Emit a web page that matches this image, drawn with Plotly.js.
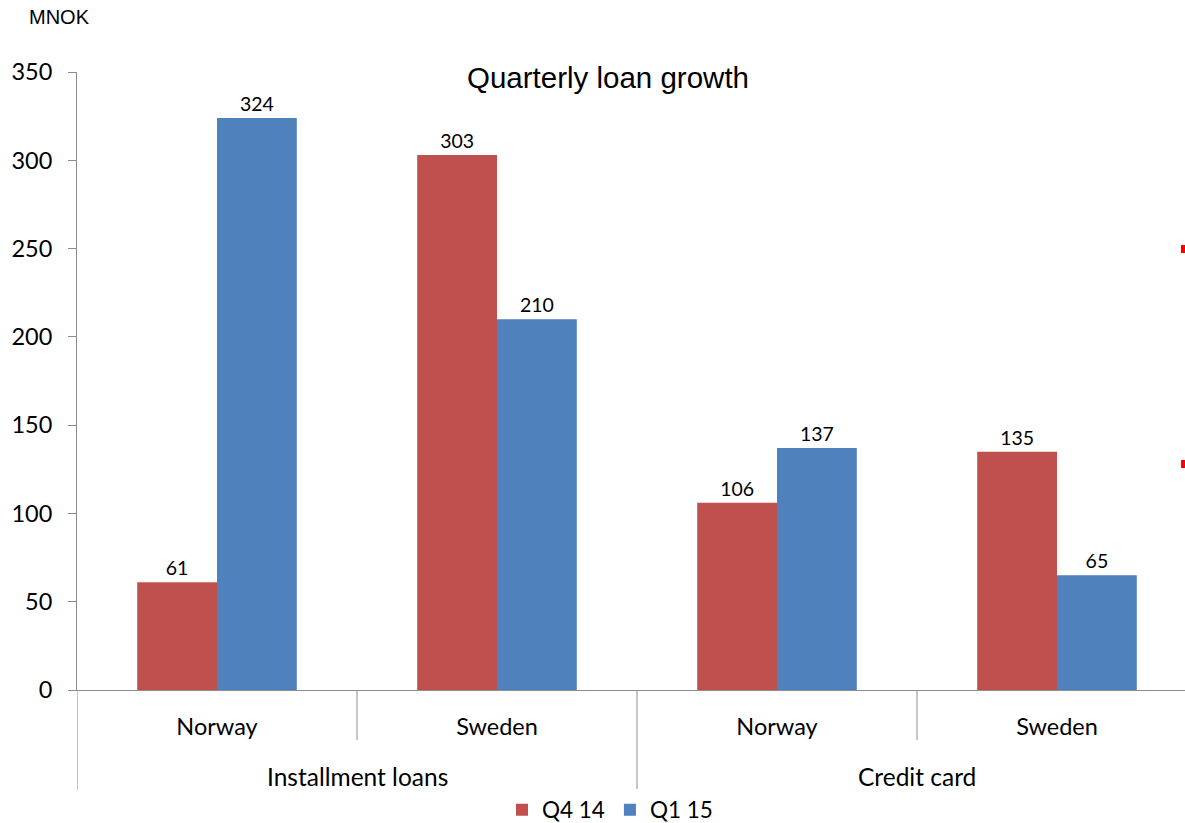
<!DOCTYPE html>
<html><head><meta charset="utf-8">
<script src="https://cdn.plot.ly/plotly-3.0.1.min.js"></script>
<style>html,body{margin:0;padding:0;background:#fff;overflow:hidden}</style>
</head><body><div id="chart" style="width:1185px;height:823px"></div>
<script>
const products = ["Installment loans", "Installment loans", "Credit card", "Credit card"];
const countries = ["Norway", "Sweden", "Norway", "Sweden"];
const outerLabels = ["Installment loans", "Credit card"];
const seriesNames = ["Q4 14", "Q1 15"];
const q4_14 = [61, 303, 106, 135];
const q1_15 = [324, 210, 137, 65];
const yTicks = [0, 50, 100, 150, 200, 250, 300, 350];

const idx = countries.map((_, i) => i);
const lblFont = {family: "Lato, 'Open Sans', sans-serif", size: 19.5, color: "#000"};

const traces = [
  {type: "bar", name: seriesNames[0], x: idx, y: q4_14, marker: {color: "#C0504D"},
   text: q4_14.map(String), textposition: "outside", textfont: lblFont, cliponaxis: false},
  {type: "bar", name: seriesNames[1], x: idx, y: q1_15, marker: {color: "#4F81BD"},
   text: q1_15.map(String), textposition: "outside", textfont: lblFont, cliponaxis: false}
];

const plotH = 618;
const shapes = [];
for (let i = 0; i < countries.length - 1; i++) {
  const isOuter = products[i] !== products[i + 1];
  shapes.push({type: "line", xref: "x", yref: "paper", x0: i + 0.5, x1: i + 0.5,
    y0: 0, y1: isOuter ? -100 / plotH : -50 / plotH, line: {color: "#8c8c8c", width: 1}});
}
shapes.push({type: "line", xref: "x", yref: "paper", x0: -0.5, x1: -0.5, y0: 0, y1: -100 / plotH,
  line: {color: "#8c8c8c", width: 1}});
// stray red marks at right edge
shapes.push({type: "rect", xref: "paper", yref: "paper", x0: 1 - 4/1108, x1: 1, y0: (690-253)/plotH, y1: (690-245)/plotH,
  line: {width: 0}, fillcolor: "#ff0000"});
shapes.push({type: "rect", xref: "paper", yref: "paper", x0: 1 - 4/1108, x1: 1, y0: (690-468)/plotH, y1: (690-460)/plotH,
  line: {width: 0}, fillcolor: "#ff0000"});

const annotations = [];
outerLabels.forEach((lab) => {
  const members = idx.filter(i => products[i] === lab);
  const center = (members[0] + members[members.length - 1]) / 2;
  annotations.push({text: lab, xref: "x", yref: "paper", x: center, y: -86 / plotH,
    yanchor: "middle", xanchor: "center", showarrow: false,
    font: {family: "Lato, 'Open Sans', sans-serif", size: 24.5, color: "#000"}});
});
annotations.push({text: "MNOK", xref: "paper", yref: "paper", x: (27 - 77) / 1108, y: (690 - 17) / plotH,
  xanchor: "left", yanchor: "middle", showarrow: false,
  font: {family: "'Liberation Sans', Arial, sans-serif", size: 20, color: "#000"}});

const layout = {
  width: 1185, height: 823,
  margin: {l: 77, r: 0, t: 72, b: 133, autoexpand: false},
  paper_bgcolor: "#fff", plot_bgcolor: "#fff",
  title: {text: "Quarterly loan growth", x: 608 / 1185, xref: "container", xanchor: "center",
    y: 1 - 78 / 823, yref: "container", yanchor: "middle",
    font: {family: "'Liberation Sans', Arial, sans-serif", size: 29.5, color: "#000"}},
  barmode: "group", bargap: 0.43, bargroupgap: 0,
  xaxis: {range: [-0.5, 3.5 - 12 / 280], tickvals: idx, ticktext: countries, ticks: "",
    showline: true, linecolor: "#8c8c8c", linewidth: 1, showgrid: false, zeroline: false,
    ticklabelstandoff: 16, tickfont: {family: "Lato, 'Open Sans', sans-serif", size: 23.5, color: "#000"}, fixedrange: true},
  yaxis: {range: [0, 350], tickvals: yTicks, ticks: "outside", ticklen: 8, tickcolor: "#8c8c8c",
    showline: true, linecolor: "#8c8c8c", linewidth: 1, showgrid: false, zeroline: false,
    ticklabelstandoff: 11, tickfont: {family: "Lato, 'Open Sans', sans-serif", size: 23.5, color: "#000"}},
  showlegend: true,
  legend: {orientation: "h", x: (610 - 77) / 1108, xanchor: "center", y: -(810 - 690) / plotH, yanchor: "middle",
    font: {family: "Lato, 'Open Sans', sans-serif", size: 22.5, color: "#000"}, itemwidth: 30, traceorder: "normal"},
  shapes: shapes, annotations: annotations
};

Plotly.newPlot("chart", traces, layout, {displayModeBar: false, staticPlot: true});
</script></body></html>
